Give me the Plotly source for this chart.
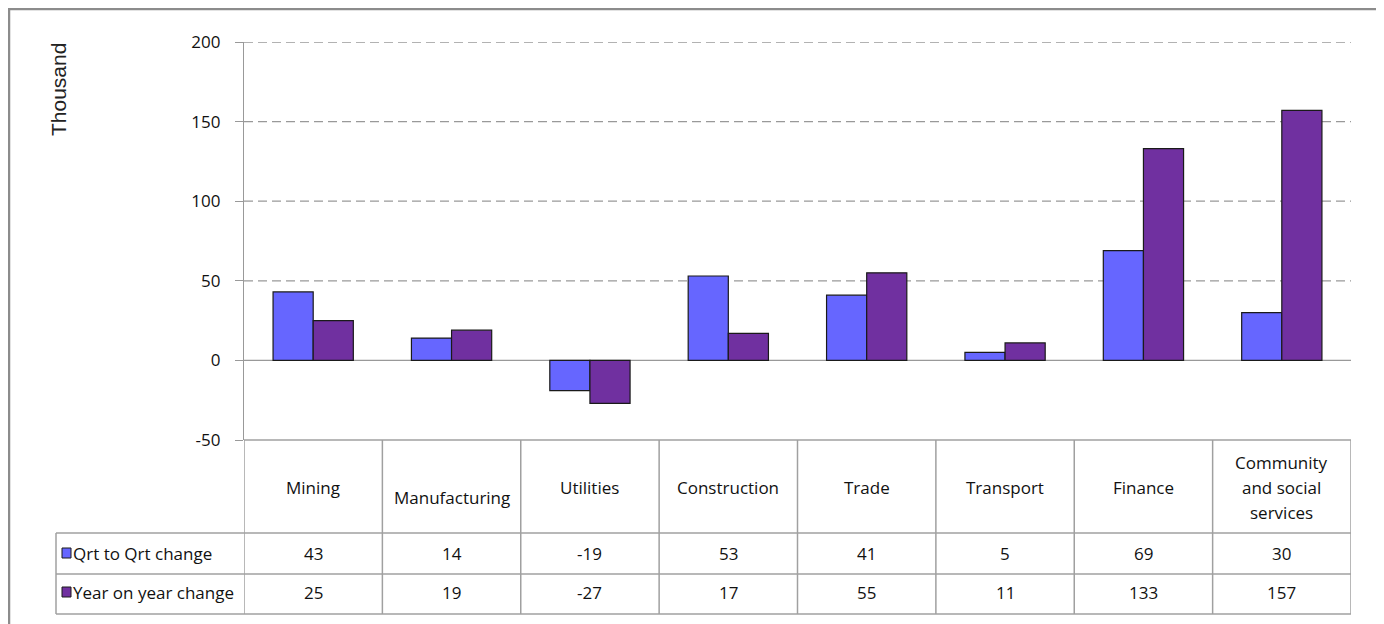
import plotly.graph_objects as go

W, H = 1384, 624
OFF = 8  # page body margin in the browser

categories = ["Mining", "Manufacturing", "Utilities", "Construction",
              "Trade", "Transport", "Finance", "Community<br>and social<br>services"]
qrt_change = [43, 14, -19, 53, 41, 5, 69, 30]
year_change = [25, 19, -27, 17, 55, 11, 133, 157]
series_names = ["Qrt to Qrt change", "Year on year change"]
series_colors = ["#6666FF", "#7030A0"]
y_ticks = [-50, 0, 50, 100, 150, 200]
y_ticktext = ["-50", "0", "50", "100", "150", "200"]

# pixel helpers -> paper fractions
def px(x):
    return (x - OFF) / W

def py(y):
    return 1 - (y - OFF) / H

x_idx = list(range(len(categories)))

fig = go.Figure()
for name, vals, col in zip(series_names, [qrt_change, year_change], series_colors):
    fig.add_trace(go.Bar(x=x_idx, y=vals, name=name, marker_color=col,
                         marker_line=dict(color="#1a1a1a", width=1.2),
                         showlegend=False))

font_fam = "Liberation Sans, Arial, sans-serif"
tbl_fam = "Open Sans, Liberation Sans, sans-serif"
grid = "#999999"

fig.update_layout(
    width=W, height=H,
    margin=dict(l=0, r=0, t=0, b=0, autoexpand=False),
    paper_bgcolor="white", plot_bgcolor="white",
    barmode="group", bargap=0.42, bargroupgap=0,
    font=dict(family=font_fam, size=14, color="#111"),
    xaxis=dict(domain=[px(244), px(1351)], range=[-0.5, len(categories) - 0.5],
               showticklabels=False, showgrid=False, zeroline=False,
               tickvals=[], showline=False, automargin=False),
    yaxis=dict(domain=[py(440), py(42)], range=[-50, 200],
               tickvals=y_ticks, ticktext=y_ticktext,
               ticks="outside", ticklen=8, tickcolor=grid, tickwidth=1,
               showline=True, linecolor=grid, linewidth=1.2,
               showgrid=False, zeroline=False, automargin=False,
               tickfont=dict(size=17, family=tbl_fam, color="#111"), ticklabelstandoff=11),
)

shapes = []
# dashed gridlines
for v in y_ticks[2:]:
    shapes.append(dict(type="line", xref="paper", yref="y", x0=px(244), x1=px(1351),
                       y0=v, y1=v, line=dict(color=grid, width=1.3, dash="9px,5px"),
                       layer="below"))
# zero line
shapes.append(dict(type="line", xref="paper", yref="y", x0=px(244), x1=px(1351),
                   y0=0, y1=0, line=dict(color=grid, width=1.3), layer="below"))

tbl = "#a0a0a0"
n = len(categories)
# table horizontal lines
shapes.append(dict(type="line", xref="x", yref="paper", x0=-0.5, x1=n - 0.5,
                   y0=py(440), y1=py(440), line=dict(color=tbl, width=1.5)))
for yy in [533, 574, 614]:
    shapes.append(dict(type="line", xref="paper", yref="paper", x0=px(56), x1=px(1351),
                       y0=py(yy), y1=py(yy), line=dict(color=tbl, width=1.5)))
# table vertical lines
for i in range(n + 1):
    shapes.append(dict(type="line", xref="x", yref="paper", x0=i - 0.5, x1=i - 0.5,
                       y0=py(440), y1=py(614), line=dict(color=tbl, width=1.5)))
shapes.append(dict(type="line", xref="paper", yref="paper", x0=px(56), x1=px(56),
                   y0=py(533), y1=py(614), line=dict(color=tbl, width=1.5)))

# legend keys in table
row_y = [553, 592]
for ry, col in zip(row_y, series_colors):
    shapes.append(dict(type="rect", xref="paper", yref="paper",
                       x0=px(62), x1=px(71), y0=py(ry + 5), y1=py(ry - 5),
                       fillcolor=col, line=dict(color="#1a1a1a", width=1)))

# outer frame
shapes.append(dict(type="rect", xref="paper", yref="paper",
                   x0=px(9), x1=px(1380), y0=py(640), y1=py(9),
                   line=dict(color="#8c8c8c", width=2.5), fillcolor="rgba(0,0,0,0)"))

annotations = []
annotations.append(dict(text="Thousand", xref="paper", yref="paper", x=px(59), y=py(90),
                        xanchor="center", yanchor="middle",
                        textangle=-90, showarrow=False,
                        font=dict(size=21, family=font_fam, color="#222")))
tfont = dict(size=17, family=tbl_fam, color="#111")
for i, c in enumerate(categories):
    lines = c.split("<br>")
    hy = 497 if c == "Manufacturing" else 487
    for k, line in enumerate(lines):
        ly = hy + (k - (len(lines) - 1) / 2) * 25
        annotations.append(dict(text=line, xref="x", yref="paper", x=i, y=py(ly),
                                xanchor="center", yanchor="middle",
                                showarrow=False, font=tfont))
    for ry, vals in zip(row_y, [qrt_change, year_change]):
        annotations.append(dict(text=str(vals[i]), xref="x", yref="paper", x=i, y=py(ry),
                                xanchor="center", yanchor="middle",
                                showarrow=False, font=tfont))
for ry, name in zip(row_y, series_names):
    annotations.append(dict(text=name, xref="paper", yref="paper", x=px(71), y=py(ry),
                            xanchor="left", yanchor="middle", showarrow=False, font=tfont))

fig.update_layout(shapes=shapes, annotations=annotations)
fig.write_html("out.html")
